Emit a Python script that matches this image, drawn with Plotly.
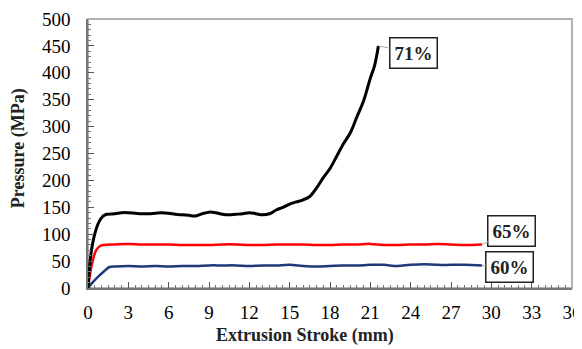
import plotly.graph_objects as go

# ---- data ----
x71 = [0, 0.2, 0.5, 0.8, 1.1, 1.4, 2, 2.5, 3, 3.5, 4, 4.5, 5, 5.5, 6, 6.5, 7, 7.5, 8, 8.5,
       9, 9.5, 10, 10.5, 11, 11.5, 12, 12.5, 13, 13.5, 14, 14.5, 15, 15.5, 16, 16.5, 17,
       17.5, 18, 18.5, 19, 19.5, 20, 20.5, 21, 21.3, 21.6]
y71 = [0, 60, 100, 122, 133, 137, 138, 140, 140, 139, 138, 138, 139, 140, 139, 137, 136,
       135, 134, 138, 141, 140, 137, 136, 137, 138, 140, 138, 136, 138, 145, 150, 156, 160,
       164, 170, 186, 205, 222, 245, 268, 288, 318, 348, 390, 412, 450]

x65 = [0, 0.3, 0.6, 0.9, 1.2, 2, 3, 4, 5, 6, 7, 8, 9, 10, 11, 12, 13, 14, 15, 16, 17, 18,
       19, 20, 21, 22, 23, 24, 25, 26, 27, 28, 29.3]
y65 = [0, 45, 70, 78, 80, 81, 82, 81, 81, 81, 80, 80, 80, 81, 81, 80, 80, 81, 81, 81, 80,
       80, 81, 81, 82, 80, 80, 81, 81, 82, 81, 80, 81]

x60 = [0, 0.4, 0.8, 1.2, 1.6, 2, 3, 4, 5, 6, 7, 8, 9, 10, 11, 12, 13, 14, 15, 16, 17, 18,
       19, 20, 21, 22, 23, 24, 25, 26, 27, 28, 29.3]
y60 = [0, 12, 22, 31, 39, 40, 41, 40, 41, 40, 41, 41, 42, 42, 42, 41, 42, 42, 43, 41, 40,
       41, 42, 42, 43, 43, 41, 43, 44, 43, 43, 43, 42]

labels = ["71%", "65%", "60%"]
x_ticks = list(range(0, 37, 3))
y_ticks = list(range(0, 501, 50))
x_title = "Extrusion Stroke (mm)"
y_title = "Pressure (MPa)"

FONT = "Liberation Serif, Times New Roman, serif"

fig = go.Figure()
fig.add_trace(go.Scatter(x=x60, y=y60, mode="lines", line=dict(color="#1f3a78", width=2.5),
                         line_shape="spline", showlegend=False))
fig.add_trace(go.Scatter(x=x65, y=y65, mode="lines", line=dict(color="#ff0000", width=2.5),
                         line_shape="spline", showlegend=False))
fig.add_trace(go.Scatter(x=x71, y=y71, mode="lines", line=dict(color="#000000", width=3),
                         line_shape="spline", showlegend=False))

ends = [(x71[-1], y71[-1], 35, 7), (x65[-1], y65[-1], 30, -13), (x60[-1], y60[-1], 28, 2)]
for lab, (ex, ey, ax, ay) in zip(labels, ends):
    fig.add_annotation(x=ex, y=ey, ax=ax, ay=ay, text="<b>%s</b>" % lab,
                       showarrow=True, arrowhead=0, arrowwidth=1, arrowcolor="#aaaaaa",
                       bordercolor="#222222", borderwidth=1.5, borderpad=4, bgcolor="white",
                       font=dict(family=FONT, size=19, color="#222222"))

# axis titles
fig.add_annotation(xref="paper", yref="paper", x=0.448, y=-0.175, showarrow=False,
                   xanchor="center", yanchor="middle", text="<b>%s</b>" % x_title,
                   font=dict(family=FONT, size=18, color="#222222"))
fig.add_annotation(xref="paper", yref="paper", x=-0.1446, y=0.52, showarrow=False,
                   xanchor="center", yanchor="middle", textangle=-90,
                   text="<b>%s</b>" % y_title,
                   font=dict(family=FONT, size=18, color="#222222"))

fig.add_shape(type="rect", xref="paper", yref="paper", x0=0, y0=0, x1=1, y1=1,
              line=dict(color="#999999", width=1.5), layer="below")

common = dict(ticks="inside", ticklen=6, tickcolor="#555555", tickwidth=1,
              showgrid=False, zeroline=False, showline=True, linecolor="#777777",
              linewidth=1.5, automargin=False,
              tickfont=dict(family=FONT, size=19, color="#000000"))
fig.update_xaxes(range=[0, 36], tickvals=x_ticks, ticktext=[str(v) for v in x_ticks],
                 minor=dict(dtick=0.5, ticks="inside", ticklen=3, tickcolor="#777777"),
                 ticklabelstandoff=6, **common)
fig.update_yaxes(range=[0, 500], tickvals=y_ticks, ticktext=[str(v) for v in y_ticks],
                 minor=dict(dtick=10, ticks="inside", ticklen=3, tickcolor="#777777"),
                 ticklabelstandoff=12, **common)

# page body has an 8px margin, so the figure is offset by 8px
fig.update_layout(width=574, height=341, margin=dict(l=80, r=10, t=11, b=61),
                  plot_bgcolor="white", paper_bgcolor="white")

fig.write_html("out.html")
